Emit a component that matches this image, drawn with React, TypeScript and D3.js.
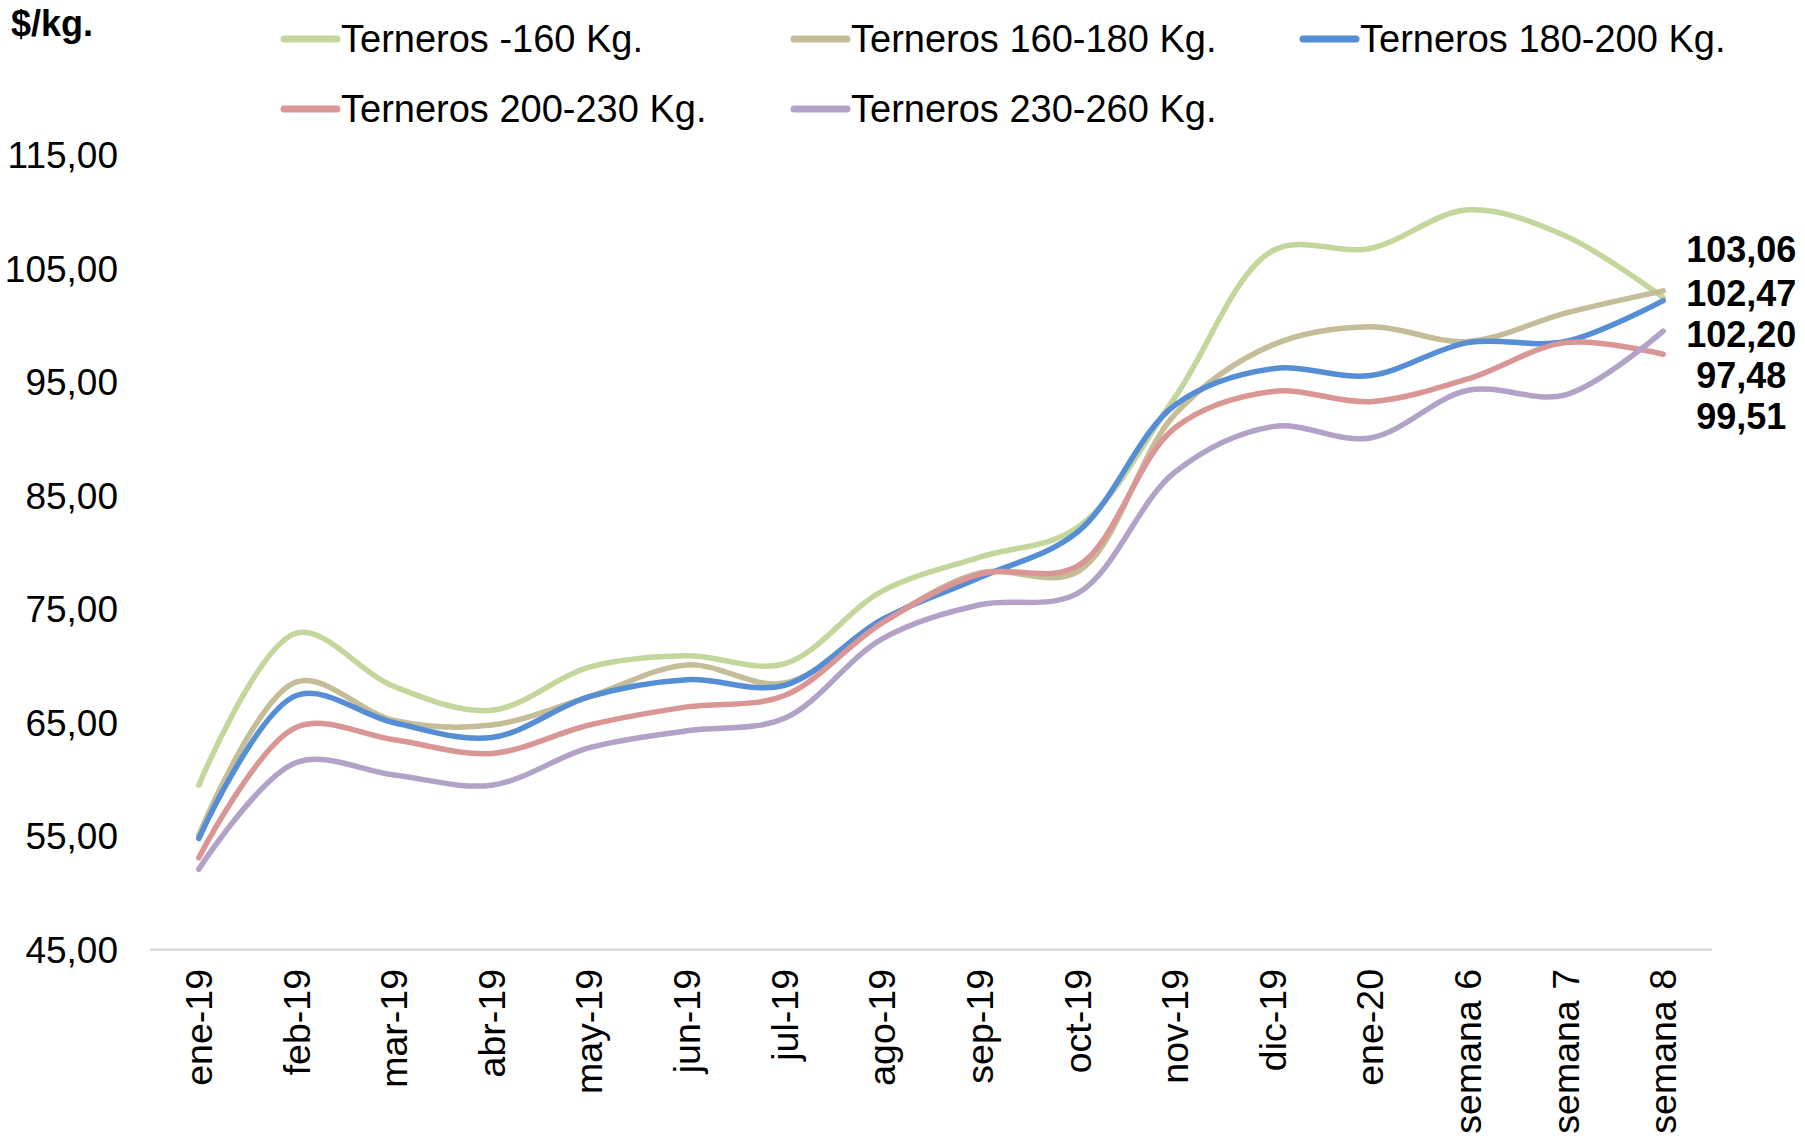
import React from "react";
import * as d3 from "d3";

const categories = [
  "ene-19", "feb-19", "mar-19", "abr-19", "may-19", "jun-19", "jul-19", "ago-19",
  "sep-19", "oct-19", "nov-19", "dic-19", "ene-20", "semana 6", "semana 7", "semana 8",
];

const seriesNames = [
  "Terneros -160 Kg.",
  "Terneros 160-180 Kg.",
  "Terneros 180-200 Kg.",
  "Terneros 200-230 Kg.",
  "Terneros 230-260 Kg.",
];

const seriesColors = ["#c3d69b", "#c4bd97", "#558ed5", "#d99694", "#b3a2c7"];

const t160 = [59.5, 72.9, 68.2, 66.1, 69.9, 70.9, 70.2, 76.6, 79.6, 82.2, 93.7, 106.6, 106.8, 110.2, 107.9, 102.47];
const t160_180 = [55.1, 68.6, 65.2, 64.8, 67.3, 70.1, 68.5, 73.9, 78.2, 78.3, 92.2, 98.3, 99.9, 98.6, 101.1, 103.06];
const t180_200 = [54.8, 67.4, 65.0, 63.7, 67.3, 68.8, 68.3, 74.1, 77.8, 81.8, 93.0, 96.2, 95.6, 98.5, 98.6, 102.2];
const t200_230 = [53.1, 64.6, 63.5, 62.3, 64.8, 66.4, 67.4, 73.8, 78.1, 78.8, 91.0, 94.2, 93.3, 95.3, 98.5, 97.48];
const t230_260 = [52.1, 61.5, 60.4, 59.5, 62.8, 64.3, 65.4, 72.4, 75.4, 76.4, 87.1, 91.1, 90.1, 94.3, 93.9, 99.51];

const seriesValues = [t160, t160_180, t180_200, t200_230, t230_260];

const yTicks = [45, 55, 65, 75, 85, 95, 105, 115];
const endLabels = ["103,06", "102,47", "102,20", "97,48", "99,51"];

const fmt = (v: number) => v.toFixed(2).replace(".", ",");

export default function App() {
  const width = 1805;
  const height = 1138;
  const x = d3.scaleBand<string>().domain(categories).range([150, 1712]);
  const y = d3.scaleLinear().domain([45, 115]).range([949.7, 155.4]);
  const cx = (c: string) => (x(c) as number) + x.bandwidth() / 2;

  const line = d3
    .line<number>()
    .x((_, i) => cx(categories[i]))
    .y((d) => y(d))
    .curve(d3.curveCatmullRom.alpha(0.5));

  const legendCols = [282, 792, 1301];
  const legendRows = [52, 122];
  const font = "'Liberation Sans', Arial, sans-serif";

  const lastX = cx(categories[categories.length - 1]);
  const labelTop = y(d3.max(seriesValues, (s) => s[s.length - 1]) as number) - 29;

  return (
    <svg
      width={width}
      height={height}
      style={{ position: "absolute", left: 0, top: 0, background: "#fff" }}
      fontFamily={font}
    >
      <rect x={0} y={0} width={width} height={height} fill="#fff" />
      <text x={11} y={36} fontSize={36} fontWeight="bold" fill="#000">
        $/kg.
      </text>

      {/* legend */}
      {seriesNames.map((name, i) => {
        const col = i % 3;
        const row = Math.floor(i / 3);
        const lx = legendCols[col];
        const ly = legendRows[row];
        return (
          <g key={name}>
            <line
              x1={lx + 2}
              x2={lx + 55}
              y1={ly - 13}
              y2={ly - 13}
              stroke={seriesColors[i]}
              strokeWidth={7}
              strokeLinecap="round"
            />
            <text x={lx + 59} y={ly} fontSize={38} fill="#000">
              {name}
            </text>
          </g>
        );
      })}

      {/* y tick labels */}
      {yTicks.map((t) => (
        <text
          key={t}
          x={118}
          y={y(t)}
          dy="0.35em"
          fontSize={37}
          textAnchor="end"
          fill="#000"
        >
          {fmt(t)}
        </text>
      ))}

      {/* bottom axis line */}
      <line x1={150} x2={1712} y1={y(45)} y2={y(45)} stroke="#d9d9d9" strokeWidth={2.5} />

      {/* x tick labels */}
      {categories.map((c) => (
        <text
          key={c}
          transform={`translate(${cx(c)},969) rotate(-90)`}
          fontSize={37.5}
          textAnchor="end"
          dy="0.35em"
          fill="#000"
        >
          {c}
        </text>
      ))}

      {/* lines */}
      {seriesValues.map((vals, i) => (
        <path
          key={seriesNames[i]}
          d={line(vals) || ""}
          fill="none"
          stroke={seriesColors[i]}
          strokeWidth={5.5}
          strokeLinecap="round"
          strokeLinejoin="round"
        />
      ))}

      {/* end labels */}
      {endLabels.map((l, i) => (
        <text
          key={l}
          x={lastX + 78}
          y={labelTop + (i === 0 ? 0 : 3 + i * 41)}
          fontSize={36}
          fontWeight="bold"
          textAnchor="middle"
          fill="#000"
        >
          {l}
        </text>
      ))}
    </svg>
  );
}
